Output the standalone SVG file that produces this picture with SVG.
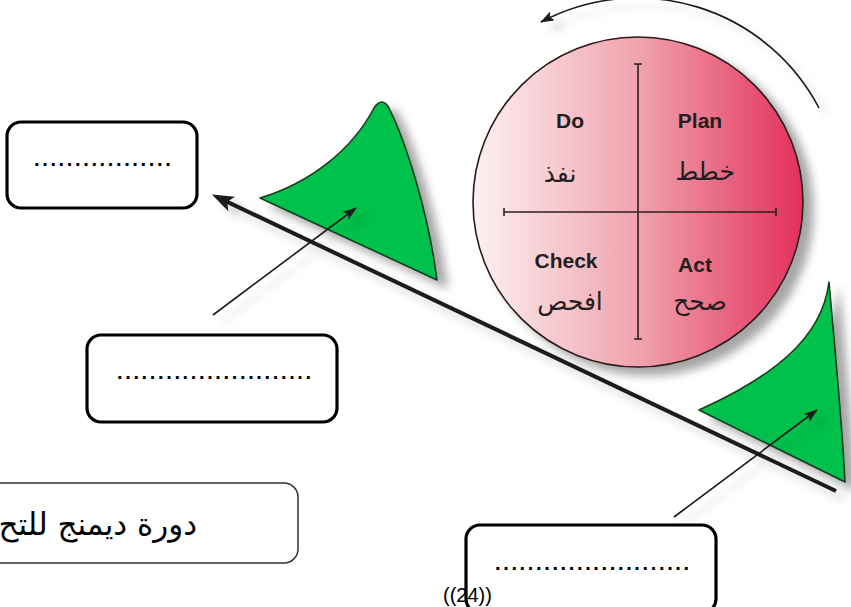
<svg xmlns="http://www.w3.org/2000/svg" width="851" height="607" viewBox="0 0 851 607">
<style>
.box{fill:#fff;stroke:#000;stroke-width:3.2}
.dots{font-family:"Liberation Sans",Arial,sans-serif;font-size:20px;font-weight:bold;letter-spacing:2.64px;fill:#000}
.en{font-family:"Liberation Sans",Arial,sans-serif;font-size:21px;font-weight:bold;fill:#231f20;text-anchor:middle}
.ar{font-family:"DejaVu Sans",sans-serif;font-size:25px;fill:#231f20;text-anchor:middle}
.green{fill:#00c14c;stroke:#173b1f;stroke-width:1.6;stroke-linejoin:round}
.thin{fill:none;stroke:#1a1a1a;stroke-width:1.6}
.cross{fill:none;stroke:#2a2022;stroke-width:1.6}
</style>
<defs>
<linearGradient id="pink" x1="0" y1="0" x2="1" y2="0">
<stop offset="0" stop-color="#fcf1f2"/>
<stop offset="0.5" stop-color="#f0a3ae"/>
<stop offset="1" stop-color="#e2305a"/>
</linearGradient>
<filter id="shadow" x="-30%" y="-30%" width="170%" height="170%">
<feGaussianBlur in="SourceAlpha" stdDeviation="5"/>
<feOffset dx="10" dy="8" result="b"/>
<feFlood flood-color="#000" flood-opacity="0.35"/>
<feComposite in2="b" operator="in"/>
<feMerge><feMergeNode/><feMergeNode in="SourceGraphic"/></feMerge>
</filter>
<filter id="lshadow" x="-30%" y="-30%" width="170%" height="170%">
<feGaussianBlur in="SourceAlpha" stdDeviation="4"/>
<feOffset dx="9" dy="8" result="b"/>
<feFlood flood-color="#000" flood-opacity="0.18"/>
<feComposite in2="b" operator="in"/>
<feMerge><feMergeNode/><feMergeNode in="SourceGraphic"/></feMerge>
</filter>
<marker id="bigHead" markerUnits="userSpaceOnUse" markerWidth="22" markerHeight="16" viewBox="0 0 22 16" refX="13" refY="8" orient="auto">
<path d="M0,0 L22,8 L0,16 L5,8 Z" fill="#1a1a1a"/>
</marker>
<marker id="thinHead" markerUnits="userSpaceOnUse" markerWidth="14" markerHeight="10" viewBox="0 0 14 10" refX="13" refY="5" orient="auto">
<path d="M0,0 L14,5 L0,10 L3,5 Z" fill="#1a1a1a"/>
</marker>
</defs>

<g id="node-box-left">
<rect x="-200" y="483" width="498" height="80" rx="14" fill="#fff" stroke="#333" stroke-width="1.5"/>
<text x="197" y="535" font-family="DejaVu Sans,sans-serif" font-size="31" text-anchor="end" fill="#000">دورة ديمنج للتح</text>
</g>

<g id="node-shape-left" filter="url(#shadow)">
<path class="green" d="M260,198 C310,183 352,150 374,108 Q382,96 389,108 C405,140 428,210 437,280 Z"/>
</g>

<g id="node-shape-right" filter="url(#shadow)">
<path class="green" d="M699,410 C770,378 822,340 829,282 C834,340 842,420 845,482 Z"/>
</g>

<g id="node-pdca">
<circle cx="638" cy="202" r="165" fill="url(#pink)" stroke="#2a1a1c" stroke-width="1.6" filter="url(#shadow)"/>
<path class="cross" d="M638,64 V339 M634,64 H642 M634,339 H642 M504,212 H776 M504,208 V216 M776,208 V216"/>
<text class="en" x="570" y="128">Do</text>
<text class="en" x="700" y="128">Plan</text>
<text class="en" x="566" y="268">Check</text>
<text class="en" x="695" y="272">Act</text>
<text class="ar" x="560" y="182">نفذ</text>
<text class="ar" x="705" y="180">خطط</text>
<text class="ar" x="570" y="310">افحص</text>
<text class="ar" x="700" y="310">صحح</text>
</g>

<g id="node-box-1">
<rect class="box" x="7" y="122" width="190" height="86" rx="14"/>
<text class="dots" x="34" y="166">.................</text>
</g>
<g id="node-box-2">
<rect class="box" x="87" y="335" width="250" height="87" rx="14"/>
<text class="dots" x="117" y="379">........................</text>
</g>
<g id="node-box-3">
<rect class="box" x="466" y="525" width="250" height="88" rx="14"/>
<text class="dots" x="495" y="570">........................</text>
</g>

<g id="connectors" filter="url(#lshadow)">
<path d="M836,491 L220,198.4" fill="none" stroke="#1a1a1a" stroke-width="4" marker-end="url(#bigHead)"/>
<path class="thin" d="M213,315 L356,208" marker-end="url(#thinHead)"/>
<path class="thin" d="M674,517 L817,410" marker-end="url(#thinHead)"/>
<path class="thin" d="M819,108 A205,205 0 0,0 541,22" marker-end="url(#thinHead)"/>
</g>

<text x="443" y="602" font-family="Liberation Sans,Arial,sans-serif" font-size="20" fill="#000">((24))</text>
</svg>
